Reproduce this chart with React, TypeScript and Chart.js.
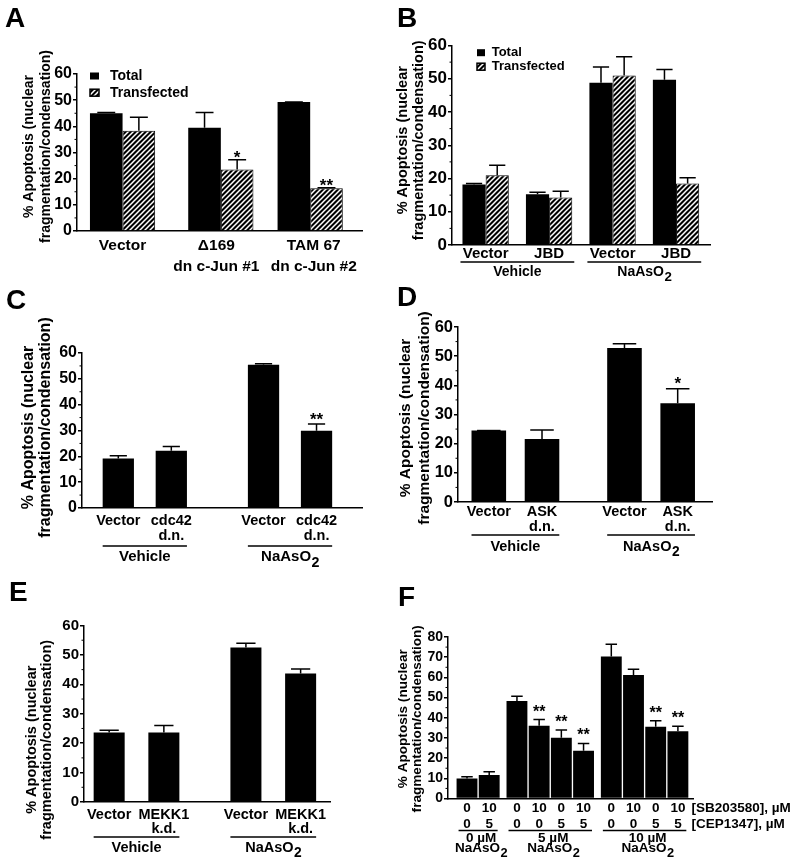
import React, { useEffect, useRef } from 'react';
import { Chart, registerables } from 'chart.js';

Chart.register(...registerables);

const FONT = '"Liberation Sans", Arial, Helvetica, sans-serif';

// ---------------- data ----------------
const Y_TITLE = ['% Apoptosis (nuclear', 'fragmentation/condensation)'];
const LEGEND_LABELS = ['Total', 'Transfected'];
const Y_TICKS_60 = [0, 10, 20, 30, 40, 50, 60];
const Y_TICKS_80 = [0, 10, 20, 30, 40, 50, 60, 70, 80];

// Panel A
const A_CATEGORIES = [['Vector'], ['\u0394169', 'dn c-Jun #1'], ['TAM 67', 'dn c-Jun #2']];
const A_TOTAL = [45.0, 39.5, 49.3];
const A_TOTAL_SEM = [0.3, 5.8, 0];
const A_TRANSFECTED = [38.3, 23.5, 16.3];
const A_TRANSFECTED_SEM = [5.2, 3.7, 0.2];
const A_TRANSFECTED_SIG = ['', '*', '**'];

// Panel B
const B_CATEGORIES = [['Vector'], ['JBD'], ['Vector'], ['JBD']];
const B_GROUPS = [['Vehicle'], ['NaAsO2']];
const B_GROUP_SIZES = [2, 2];
const B_TOTAL = [18.2, 15.3, 48.8, 49.7];
const B_TOTAL_SEM = [0.3, 0.6, 4.7, 3.1];
const B_TRANSFECTED = [21.0, 14.3, 51.0, 18.5];
const B_TRANSFECTED_SEM = [3.0, 1.9, 5.6, 1.7];

// Panel C
const C_CATEGORIES = [['Vector'], ['cdc42', 'd.n.'], ['Vector'], ['cdc42', 'd.n.']];
const C_GROUPS = [['Vehicle'], ['NaAsO2']];
const C_GROUP_SIZES = [2, 2];
const C_VALUES = [19.2, 22.2, 55.5, 29.9];
const C_SEM = [1.0, 1.6, 0.3, 2.6];
const C_SIG = ['', '', '', '**'];

// Panel D
const D_CATEGORIES = [['Vector'], ['ASK', 'd.n.'], ['Vector'], ['ASK', 'd.n.']];
const D_GROUPS = [['Vehicle'], ['NaAsO2']];
const D_GROUP_SIZES = [2, 2];
const D_VALUES = [24.5, 21.6, 52.8, 33.9];
const D_SEM = [0, 3.1, 1.5, 4.9];
const D_SIG = ['', '', '', '*'];

// Panel E
const E_CATEGORIES = [['Vector'], ['MEKK1', 'k.d.'], ['Vector'], ['MEKK1', 'k.d.']];
const E_GROUPS = [['Vehicle'], ['NaAsO2']];
const E_GROUP_SIZES = [2, 2];
const E_VALUES = [23.6, 23.6, 52.5, 43.7];
const E_SEM = [0.8, 2.4, 1.5, 1.5];

// Panel F
const F_SB203580 = ['0', '10', '0', '10', '0', '10', '0', '10', '0', '10'];
const F_CEP1347 = ['0', '5', '0', '0', '5', '5', '0', '0', '5', '5'];
const F_GROUPS = [['0 \u00b5M', 'NaAsO2'], ['5 \u00b5M', 'NaAsO2'], ['10 \u00b5M', 'NaAsO2']];
const F_GROUP_SIZES = [2, 4, 4];
const F_ROW_TITLES = ['[SB203580], \u00b5M', '[CEP1347], \u00b5M'];
const F_VALUES = [9.9, 11.6, 48.3, 36.0, 30.1, 23.7, 70.4, 61.2, 35.6, 33.3];
const F_SEM = [0.9, 1.6, 2.4, 3.1, 3.8, 3.6, 6.0, 2.8, 2.9, 2.5];
const F_SIG = ['', '', '', '**', '**', '**', '', '', '**', '**'];

// ---------------- layout ----------------
type Series = { values: number[]; sem: number[]; sig?: string[]; hatched: boolean };
type Panel = {
  letter: string;
  letterAt: [number, number];
  rect: [number, number, number, number];
  area: [number, number, number, number];
  yTicks: number[];
  yFont: number;
  categories: string[][];
  groupSizes: number[];
  groupGap: number;
  labelShift?: number[];
  xPadUnits: [number, number];
  series: Series[];
  catPct: number;
  barPct: number;
  capFrac: number;
  xFont: number;
  xLine: number;
  xPad: number;
  sigFont: number;
  sigDy: number;
  title: { size: number; dx: [number, number]; dy: number };
  legend?: { dx: number; dy: number; rowH: number; sw: number; sh: number; textDx: number; size: number };
  groups?: { labels: string[][]; lineDy: number; labelDy: number[]; size: number; dx: number; ext: number };
  rowTitles?: { labels: string[]; dx: number; dy: number[]; size: number };
};

const PANELS: Panel[] = [
  {
    letter: 'A', letterAt: [5, 8], rect: [0, 0, 392, 285], area: [77, 74, 362, 231],
    yTicks: Y_TICKS_60, yFont: 16,
    categories: A_CATEGORIES, groupSizes: [1, 2], groupGap: 1.1, labelShift: [0, -0.05, 0.04], xPadUnits: [0.51, 0.58],
    series: [
      { values: A_TOTAL, sem: A_TOTAL_SEM, hatched: false },
      { values: A_TRANSFECTED, sem: A_TRANSFECTED_SEM, sig: A_TRANSFECTED_SIG, hatched: true },
    ],
    catPct: 0.73, barPct: 1, capFrac: 0.55,
    xFont: 15.5, xLine: 1.32, xPad: 4.8, sigFont: 17, sigDy: 3.5,
    title: { size: 14, dx: [-47.5, -31.2], dy: -6 },
    legend: { dx: 13, dy: 2, rowH: 16.7, sw: 9, sh: 7, textDx: 20, size: 14 },
  },
  {
    letter: 'B', letterAt: [397, 8], rect: [392, 0, 401, 285], area: [452, 45.5, 710, 245],
    yTicks: Y_TICKS_60, yFont: 17,
    categories: B_CATEGORIES, groupSizes: B_GROUP_SIZES, groupGap: 1, xPadUnits: [0.53, 0.535],
    series: [
      { values: B_TOTAL, sem: B_TOTAL_SEM, hatched: false },
      { values: B_TRANSFECTED, sem: B_TRANSFECTED_SEM, hatched: true },
    ],
    catPct: 0.73, barPct: 1, capFrac: 0.7,
    xFont: 15, xLine: 1.2, xPad: 0, sigFont: 17, sigDy: 0,
    title: { size: 14.5, dx: [-48.7, -33.2], dy: -5 },
    legend: { dx: 25, dy: 7.2, rowH: 14, sw: 8, sh: 7, textDx: 14.7, size: 13 },
    groups: { labels: B_GROUPS, lineDy: 17, labelDy: [27], size: 14, dx: 0, ext: 2 },
  },
  {
    letter: 'C', letterAt: [6, 290], rect: [0, 285, 392, 290], area: [82, 353, 362, 508],
    yTicks: Y_TICKS_60, yFont: 16,
    categories: C_CATEGORIES, groupSizes: C_GROUP_SIZES, groupGap: 1.74, xPadUnits: [0.685, 0.858],
    series: [{ values: C_VALUES, sem: C_SEM, sig: C_SIG, hatched: false }],
    catPct: 1, barPct: 0.59, capFrac: 0.55,
    xFont: 14.5, xLine: 1.0, xPad: 5.75, sigFont: 17, sigDy: 0.5,
    title: { size: 16, dx: [-53, -36], dy: -3 },
    groups: { labels: C_GROUPS, lineDy: 38, labelDy: [49], size: 15, dx: 0, ext: 0 },
  },
  {
    letter: 'D', letterAt: [397, 287], rect: [392, 285, 401, 290], area: [458, 327, 712, 502],
    yTicks: Y_TICKS_60, yFont: 16.5,
    categories: D_CATEGORIES, groupSizes: D_GROUP_SIZES, groupGap: 1.55, xPadUnits: [0.579, 0.645],
    series: [{ values: D_VALUES, sem: D_SEM, sig: D_SIG, hatched: false }],
    catPct: 1, barPct: 0.65, capFrac: 0.68,
    xFont: 14.5, xLine: 1.0, xPad: 2.75, sigFont: 17, sigDy: 0.5,
    title: { size: 15.5, dx: [-52.5, -33.5], dy: 3.5 },
    groups: { labels: D_GROUPS, lineDy: 33, labelDy: [44.7], size: 14.5, dx: 0, ext: 0 },
  },
  {
    letter: 'E', letterAt: [9, 582], rect: [0, 575, 392, 289], area: [84, 625.5, 330, 802],
    yTicks: Y_TICKS_60, yFont: 15,
    categories: E_CATEGORIES, groupSizes: E_GROUP_SIZES, groupGap: 1.5, xPadUnits: [0.46, 0.537],
    series: [{ values: E_VALUES, sem: E_SEM, hatched: false }],
    catPct: 1, barPct: 0.567, capFrac: 0.62,
    xFont: 14.5, xLine: 0.93, xPad: 6.75, sigFont: 17, sigDy: 0.5,
    title: { size: 14.5, dx: [-52, -37], dy: 26 },
    groups: { labels: E_GROUPS, lineDy: 35, labelDy: [45.5], size: 14.5, dx: 0, ext: 0 },
  },
  {
    letter: 'F', letterAt: [398, 587], rect: [392, 575, 401, 289], area: [448, 637, 693, 798.5],
    yTicks: Y_TICKS_80, yFont: 14,
    categories: F_SB203580.map((s, i) => [s, F_CEP1347[i]]), groupSizes: F_GROUP_SIZES, groupGap: 1.25, xPadUnits: [0.856, 0.68],
    series: [{ values: F_VALUES, sem: F_SEM, sig: F_SIG, hatched: false }],
    catPct: 1, barPct: 0.94, capFrac: 0.55,
    xFont: 13.5, xLine: 1.18, xPad: 1.5, sigFont: 16, sigDy: -3,
    title: { size: 13.6, dx: [-44.7, -31], dy: 1 },
    groups: { labels: F_GROUPS, lineDy: 32, labelDy: [40, 49.5], size: 13.5, dx: 3, ext: -2 },
    rowTitles: { labels: F_ROW_TITLES, dx: -1.5, dy: [9.5, 25.5], size: 13.5 },
  },
];

// ---------------- helpers ----------------
function positions(groupSizes: number[], gap: number): number[] {
  const out: number[] = [];
  let x = 0;
  groupSizes.forEach((n, g) => {
    if (g > 0) x += gap - 1;
    for (let i = 0; i < n; i++) {
      out.push(x);
      x += 1;
    }
  });
  return out;
}

function makeHatch(ctx: CanvasRenderingContext2D): CanvasPattern {
  const s = 5;
  const c = document.createElement('canvas');
  c.width = s;
  c.height = s;
  const g = c.getContext('2d')!;
  g.fillStyle = '#000';
  g.fillRect(0, 0, s, s);
  g.strokeStyle = '#fff';
  g.lineWidth = 1.5;
  g.beginPath();
  g.moveTo(-1, s + 1);
  g.lineTo(s + 1, -1);
  g.moveTo(-s, s);
  g.lineTo(s, -s);
  g.moveTo(0, 2 * s);
  g.lineTo(2 * s, 0);
  g.stroke();
  return ctx.createPattern(c, 'repeat')!;
}

function drawChem(ctx: CanvasRenderingContext2D, text: string, cx: number, cy: number, size: number) {
  ctx.font = `bold ${size}px ${FONT}`;
  ctx.textBaseline = 'middle';
  const m = /^([A-Z][A-Za-z]*?)(\d)$/.exec(text);
  if (!m) {
    ctx.textAlign = 'center';
    ctx.fillText(text, cx, cy);
    return;
  }
  const main = m[1];
  const sub = m[2];
  const subSize = size * 0.95;
  const wm = ctx.measureText(main).width;
  ctx.font = `bold ${subSize}px ${FONT}`;
  const ws = ctx.measureText(sub).width;
  const x0 = cx - (wm + ws) / 2;
  ctx.textAlign = 'left';
  ctx.font = `bold ${size}px ${FONT}`;
  ctx.fillText(main, x0, cy);
  ctx.font = `bold ${subSize}px ${FONT}`;
  ctx.fillText(sub, x0 + wm + 0.5, cy + size * 0.38);
}

function extrasPlugin(p: Panel, hatch: CanvasPattern) {
  return {
    id: 'extras' + p.letter,
    afterDatasetsDraw(chart: any) {
      const ctx: CanvasRenderingContext2D = chart.ctx;
      const ys = chart.scales.y;
      ctx.save();
      ctx.strokeStyle = '#000';
      ctx.fillStyle = '#000';
      ctx.lineWidth = 1.5;
      p.series.forEach((s, si) => {
        const meta = chart.getDatasetMeta(si);
        meta.data.forEach((el: any, i: number) => {
          const top = ys.getPixelForValue(s.values[i]);
          const ey = ys.getPixelForValue(s.values[i] + s.sem[i]);
          const half = (el.width * p.capFrac) / 2;
          ctx.beginPath();
          ctx.moveTo(el.x, top);
          ctx.lineTo(el.x, ey);
          ctx.moveTo(el.x - half, ey);
          ctx.lineTo(el.x + half, ey);
          ctx.stroke();
          const sig = s.sig ? s.sig[i] : '';
          if (sig) {
            ctx.font = `bold ${p.sigFont}px ${FONT}`;
            ctx.textAlign = 'center';
            ctx.textBaseline = 'alphabetic';
            ctx.fillText(sig, el.x, ey + p.sigDy);
          }
        });
      });
      ctx.restore();
    },
    afterDraw(chart: any) {
      const ctx: CanvasRenderingContext2D = chart.ctx;
      const a = chart.chartArea;
      const ys = chart.scales.y;
      ctx.save();
      ctx.strokeStyle = '#000';
      ctx.fillStyle = '#000';

      // minor ticks
      ctx.lineWidth = 1;
      for (let k = 0; k < p.yTicks.length - 1; k++) {
        const v = (p.yTicks[k] + p.yTicks[k + 1]) / 2;
        const py = ys.getPixelForValue(v);
        ctx.beginPath();
        ctx.moveTo(a.left - 2.5, py);
        ctx.lineTo(a.left, py);
        ctx.stroke();
      }

      // y title
      const T = p.title;
      ctx.font = `bold ${T.size}px ${FONT}`;
      ctx.textAlign = 'center';
      ctx.textBaseline = 'middle';
      const cy = (a.top + a.bottom) / 2 + T.dy;
      Y_TITLE.forEach((t, k) => {
        ctx.save();
        ctx.translate(a.left + T.dx[k], cy);
        ctx.rotate(-Math.PI / 2);
        ctx.fillText(t, 0, 0);
        ctx.restore();
      });

      // legend
      if (p.legend) {
        const L = p.legend;
        ctx.font = `bold ${L.size}px ${FONT}`;
        ctx.textAlign = 'left';
        ctx.textBaseline = 'middle';
        LEGEND_LABELS.forEach((lab, k) => {
          const y = a.top + L.dy + k * L.rowH;
          const x = a.left + L.dx;
          const hatched = p.series[k].hatched;
          ctx.fillStyle = hatched ? hatch : '#000';
          ctx.fillRect(x, y - L.sh / 2, L.sw, L.sh);
          if (hatched) {
            ctx.lineWidth = 1.5;
            ctx.strokeRect(x, y - L.sh / 2, L.sw, L.sh);
          }
          ctx.fillStyle = '#000';
          ctx.fillText(lab, x + L.textDx, y);
        });
      }

      // group underlines & labels
      if (p.groups) {
        const G = p.groups;
        let start = 0;
        p.groupSizes.forEach((n, g) => {
          let lo = Infinity;
          let hi = -Infinity;
          p.series.forEach((_, si) => {
            const meta = chart.getDatasetMeta(si);
            for (let i = start; i < start + n; i++) {
              const el = meta.data[i];
              lo = Math.min(lo, el.x - el.width / 2);
              hi = Math.max(hi, el.x + el.width / 2);
            }
          });
          ctx.lineWidth = 1.5;
          ctx.beginPath();
          ctx.moveTo(lo - G.ext, a.bottom + G.lineDy);
          ctx.lineTo(hi + G.ext, a.bottom + G.lineDy);
          ctx.stroke();
          const cx = (lo + hi) / 2 + G.dx;
          G.labels[g].forEach((t, k) => drawChem(ctx, t, cx, a.bottom + G.labelDy[k], G.size));
          start += n;
        });
      }

      // row titles (F)
      if (p.rowTitles) {
        const R = p.rowTitles;
        ctx.font = `bold ${R.size}px ${FONT}`;
        ctx.textAlign = 'left';
        ctx.textBaseline = 'middle';
        R.labels.forEach((t, k) => ctx.fillText(t, a.right + R.dx, a.bottom + R.dy[k]));
      }
      ctx.restore();
    },
  };
}

function PanelChart({ p }: { p: Panel }) {
  const ref = useRef<HTMLCanvasElement>(null);
  const [rl, rt, rw, rh] = p.rect;
  useEffect(() => {
    const canvas = ref.current!;
    const ctx = canvas.getContext('2d')!;
    const hatch = makeHatch(ctx);
    const pos = positions(p.groupSizes, p.groupGap);
    const labelPos = pos.map((v, i) => v + (p.labelShift ? p.labelShift[i] : 0));
    const [al, at, ar, ab] = p.area;
    const yW = al - rl;
    const xH = rh - (ab - rt);
    const xMin = pos[0] - p.xPadUnits[0];
    const xMax = pos[pos.length - 1] + p.xPadUnits[1];
    const chart = new Chart(canvas, {
      type: 'bar',
      data: {
        datasets: p.series.map((s) => ({
          data: s.values.map((v, i) => ({ x: pos[i], y: v })),
          backgroundColor: s.hatched ? (hatch as any) : '#000',
          borderColor: '#000',
          borderWidth: s.hatched ? 1 : 0,
          categoryPercentage: p.catPct,
          barPercentage: p.barPct,
        })),
      },
      options: {
        responsive: false,
        animation: false,
        devicePixelRatio: 1,
        layout: { padding: { left: 0, top: at - rt, right: rl + rw - ar, bottom: 0 } },
        plugins: { legend: { display: false }, tooltip: { enabled: false }, title: { display: false } },
        scales: {
          x: {
            type: 'linear',
            min: xMin,
            max: xMax,
            offset: false,
            grid: { display: false, drawTicks: false },
            border: { display: true, color: '#000', width: 1.5 },
            afterBuildTicks: (s: any) => {
              s.ticks = labelPos.map((v) => ({ value: v }));
            },
            afterFit: (s: any) => {
              s.height = xH;
            },
            ticks: {
              autoSkip: false,
              maxRotation: 0,
              minRotation: 0,
              padding: p.xPad,
              color: '#000',
              font: { family: FONT, size: p.xFont, weight: 'bold', lineHeight: p.xLine },
              callback: (_v: any, i: number) => p.categories[i],
            },
          },
          y: {
            type: 'linear',
            min: p.yTicks[0],
            max: p.yTicks[p.yTicks.length - 1],
            grid: { display: true, drawOnChartArea: false, drawTicks: true, tickLength: 4, color: '#000', lineWidth: 1.5 },
            border: { display: true, color: '#000', width: 1.5 },
            afterBuildTicks: (s: any) => {
              s.ticks = p.yTicks.map((v) => ({ value: v }));
            },
            afterFit: (s: any) => {
              s.width = yW;
            },
            ticks: {
              padding: 1,
              color: '#000',
              font: { family: FONT, size: p.yFont, weight: 'bold' },
              callback: (v: any) => String(v),
            },
          },
        },
      } as any,
      plugins: [extrasPlugin(p, hatch)],
    });
    return () => chart.destroy();
  }, [p]);
  return (
    <canvas
      ref={ref}
      width={rw}
      height={rh}
      style={{ position: 'absolute', left: rl, top: rt, width: rw, height: rh }}
    />
  );
}

export default function App() {
  return (
    <div
      style={{
        position: 'absolute',
        left: 0,
        top: 0,
        width: 793,
        height: 864,
        background: '#fff',
        overflow: 'hidden',
        fontFamily: FONT,
      }}
    >
      {PANELS.map((p) => (
        <PanelChart key={p.letter} p={p} />
      ))}
      {PANELS.map((p) => (
        <div
          key={'L' + p.letter}
          style={{
            position: 'absolute',
            left: p.letterAt[0],
            top: p.letterAt[1] - 3.7,
            font: `bold 28px ${FONT}`,
            lineHeight: '28px',
            color: '#000',
            zIndex: 2,
          }}
        >
          {p.letter}
        </div>
      ))}
    </div>
  );
}
